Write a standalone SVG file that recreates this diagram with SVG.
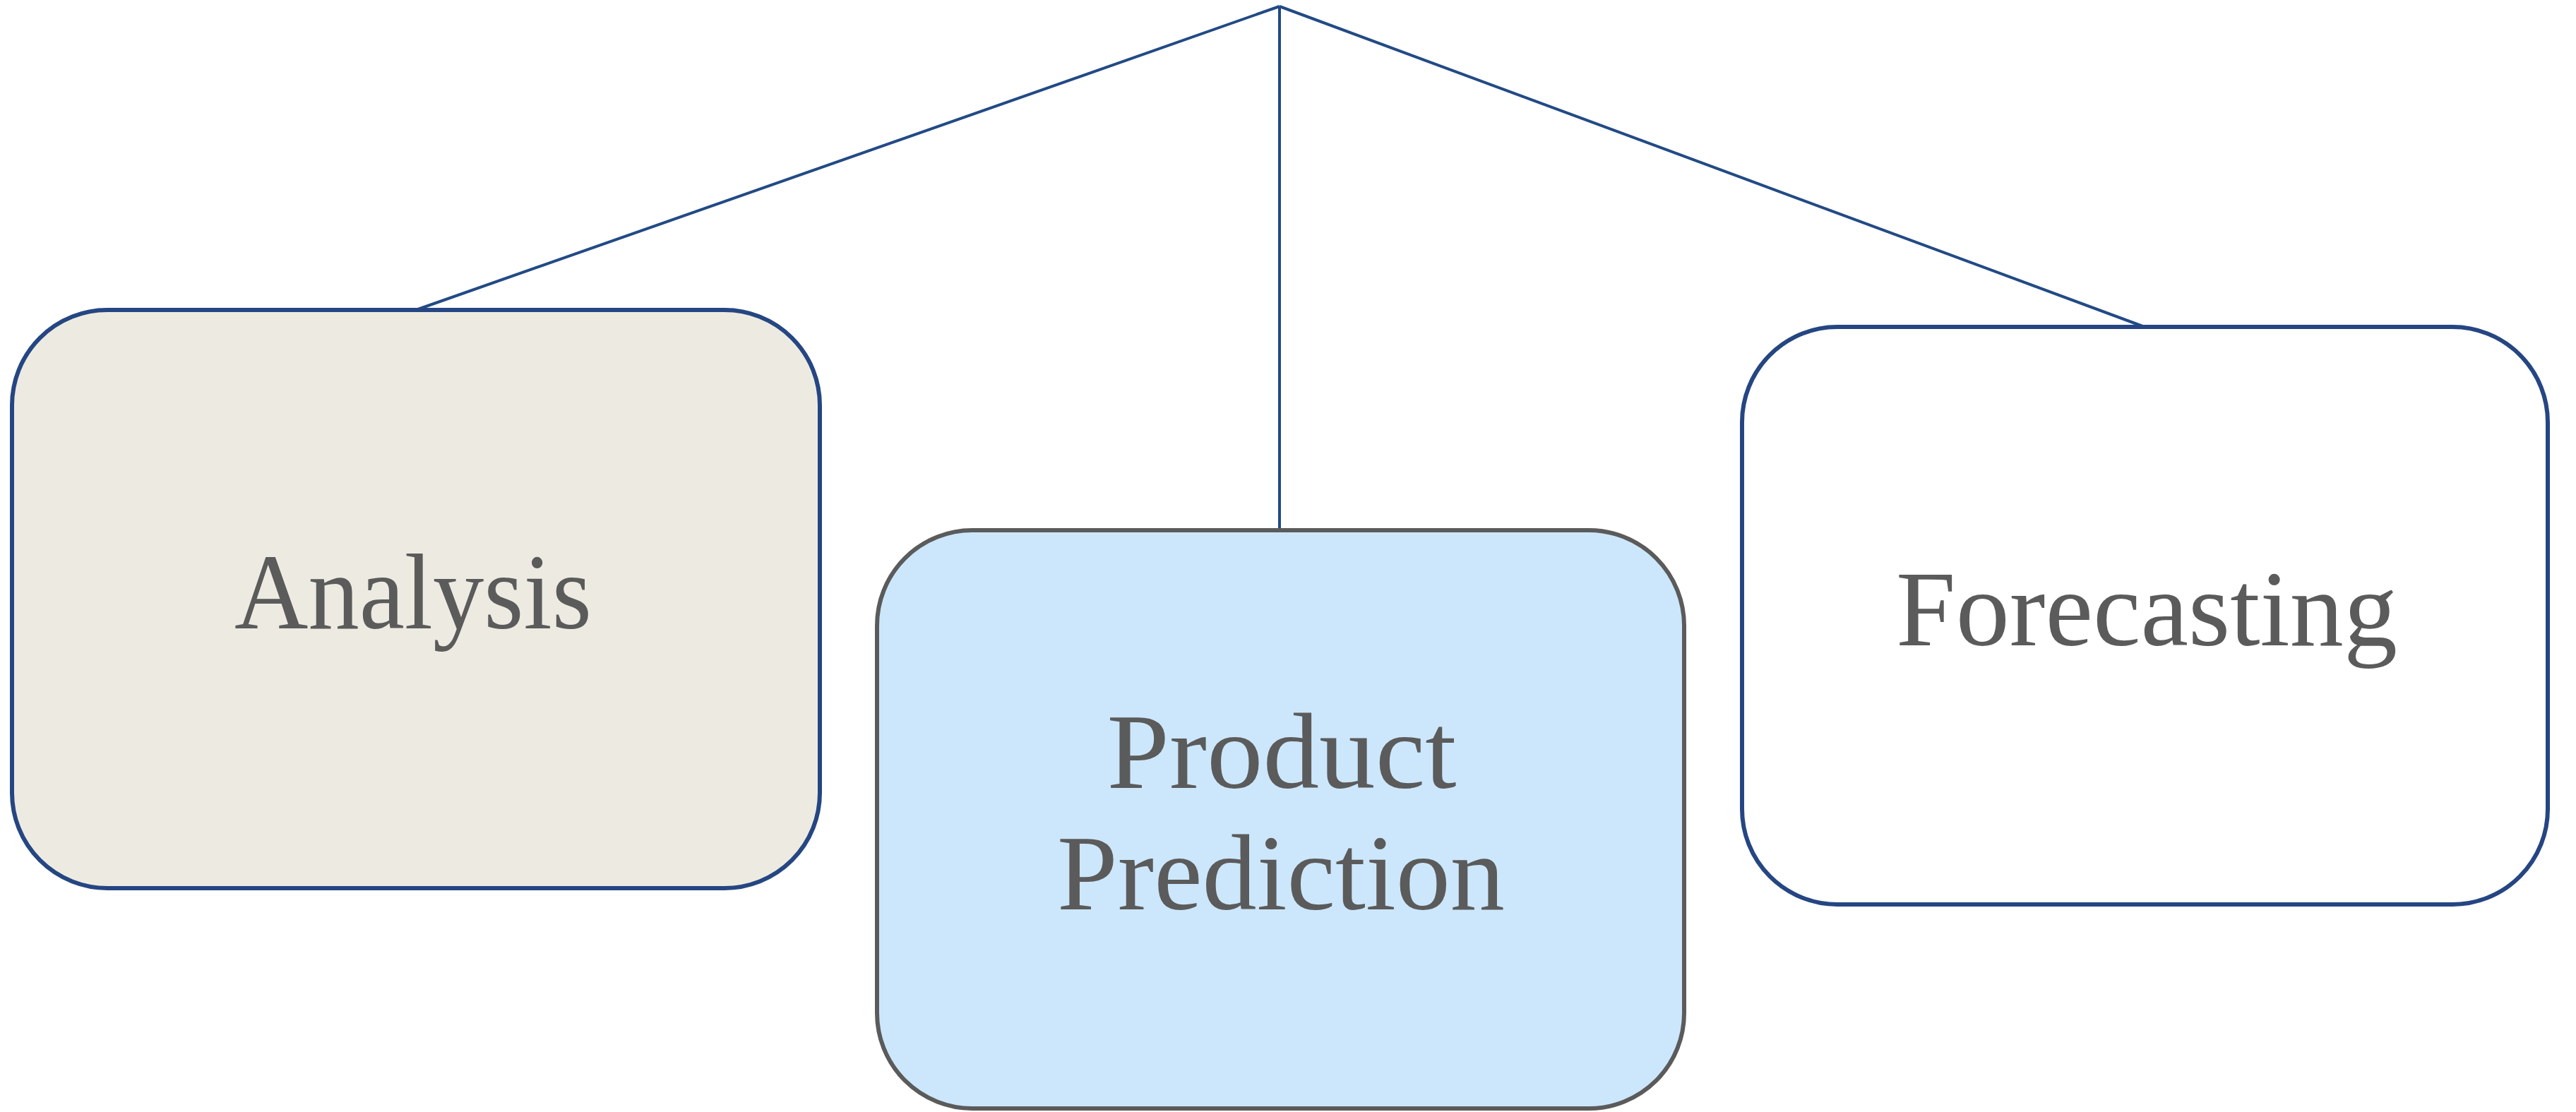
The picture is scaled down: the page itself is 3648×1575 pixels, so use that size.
<svg xmlns="http://www.w3.org/2000/svg" width="3648" height="1575" viewBox="0 0 3648 1575">
<style>
.box{stroke-width:6}
.blue{stroke:#254682}
.gray{stroke:#5b5b5b}
.lbl{font-family:"Liberation Serif","Times New Roman",serif;font-size:152px;fill:#5b5b5b;text-anchor:middle}
.conn{stroke:#224a85;stroke-width:4;fill:none}
</style>
<rect width="3648" height="1575" fill="#ffffff"/>
<g id="connectors">
<line class="conn" x1="1812" y1="9" x2="589" y2="439"/>
<line class="conn" x1="1812" y1="9" x2="1812" y2="751"/>
<line class="conn" x1="1812" y1="9" x2="3037" y2="463"/>
</g>
<g id="analysis">
<rect class="box blue" x="17" y="439" width="1144" height="819" rx="135" ry="135" fill="#edebe1"/>
<text class="lbl" x="585" y="890" textLength="506" lengthAdjust="spacingAndGlyphs">Analysis</text>
</g>
<g id="product-prediction">
<rect class="box gray" x="1242" y="751" width="1143" height="819" rx="135" ry="135" fill="#cce7fc"/>
<text class="lbl" x="1815" y="1116" textLength="495" lengthAdjust="spacingAndGlyphs">Product</text>
<text class="lbl" x="1814" y="1288" textLength="634" lengthAdjust="spacingAndGlyphs">Prediction</text>
</g>
<g id="forecasting">
<rect class="box blue" x="2467" y="463" width="1141" height="818" rx="135" ry="135" fill="#ffffff"/>
<text class="lbl" x="3040" y="914" textLength="710" lengthAdjust="spacingAndGlyphs">Forecasting</text>
</g>
</svg>
